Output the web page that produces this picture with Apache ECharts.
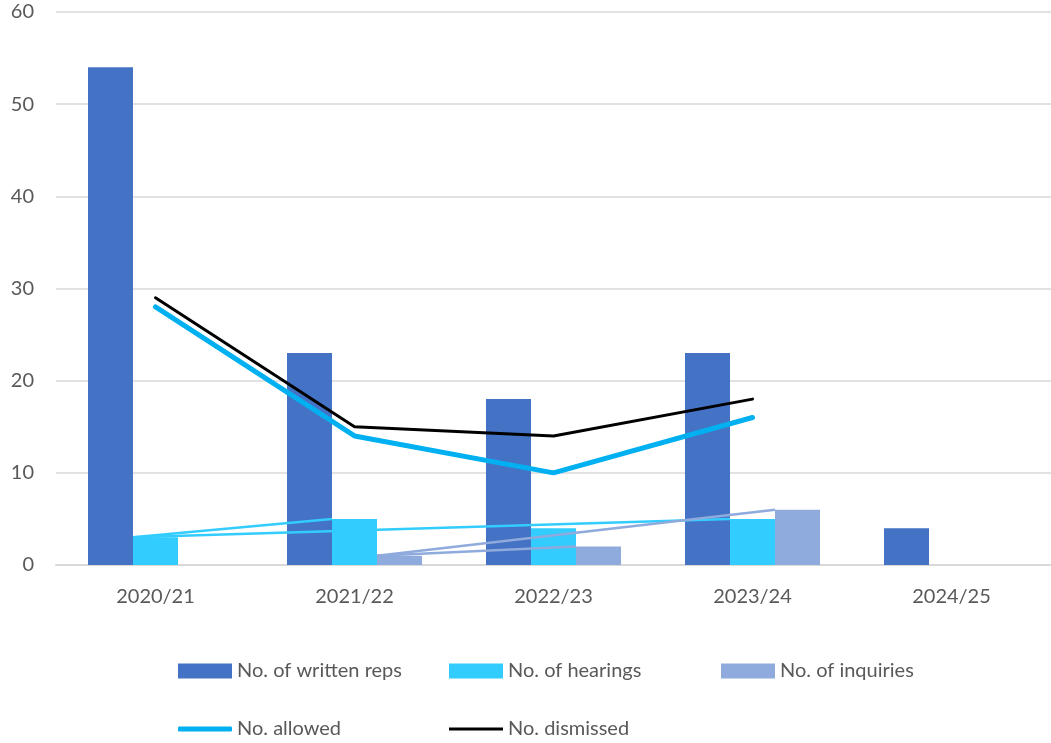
<!doctype html>
<meta charset="utf-8">
<style>
  html, body {
    margin: 0;
    height: 100%;
    background: #fff;
  }

  #chart {
    width: 1051px;
    height: 743px;
  }
</style>
<script src="https://cdn.jsdelivr.net/npm/echarts@6/dist/echarts.min.js"></script>

<div id="chart"></div>

<script>
  const years = ['2020/21', '2021/22', '2022/23', '2023/24', '2024/25']
  const writtenReps = [54, 23, 18, 23, 4]
  const hearings = [3, 5, 4, 5, null]
  const inquiries = [0, 1, 2, 6, null]
  const allowed = [28, 14, 10, 16, null]
  const dismissed = [29, 15, 14, 18, null]
  // stray thin lines joining bar tops (from index -> to index)
  const hearingLinks = [[0, 1], [0, 3]]
  const inquiryLinks = [[1, 2], [1, 3]]

  const GRID_LEFT = 56
  const GRID_RIGHT = 0
  const BAR_W = 45
  const catW = (1051 - GRID_LEFT - GRID_RIGHT) / years.length
  const barOff = BAR_W / 2 / catW

  // top-left corner of a bar in value-axis units
  function links(pairs, values, off) {
    return pairs.map(([a, b]) => [
      [a + 0.5 + off, values[a]],
      [b + 0.5 + off, values[b]],
    ])
  }

  const font = 'Lato, "Open Sans", sans-serif'
  const txt = { color: '#595959', fontSize: 20, fontFamily: font }

  let chart = echarts.init(document.getElementById('chart'))

  function thin(data, color) {
    return {
      type: 'line',
      xAxisIndex: 1,
      data: data,
      showSymbol: false,
      symbol: 'none',
      lineStyle: { color: color, width: 2.5 },
      z: 3,
      silent: true,
    }
  }

  function leg(name, left, top, icon, h) {
    return {
      data: [name],
      left: left,
      top: top,
      padding: 0,
      icon: icon,
      itemWidth: 54,
      itemHeight: h,
      itemGap: 0,
      textStyle: txt,
      selectedMode: false,
    }
  }

  let series = [
    {
      name: 'No. of written reps', type: 'bar', data: writtenReps,
      barWidth: BAR_W, barGap: '0%', itemStyle: { color: '#4472C4' },
    },
    {
      name: 'No. of hearings', type: 'bar', data: hearings,
      barWidth: BAR_W, barGap: '0%', itemStyle: { color: '#33CCFF' },
    },
    {
      name: 'No. of inquiries', type: 'bar', data: inquiries,
      barWidth: BAR_W, barGap: '0%', itemStyle: { color: '#8FAADC' },
    },
    {
      name: 'No. allowed', type: 'line', data: allowed,
      symbol: 'none', color: '#00B0F0',
      lineStyle: { color: '#00B0F0', width: 5, cap: 'round', join: 'round' },
      z: 4,
    },
    {
      name: 'No. dismissed', type: 'line', data: dismissed,
      symbol: 'none', color: '#000',
      lineStyle: { color: '#000', width: 3, cap: 'round', join: 'round' },
      z: 5,
    },
  ]
  links(hearingLinks, hearings, -barOff).forEach(d => series.push(thin(d, '#33CCFF')))
  links(inquiryLinks, inquiries, barOff).forEach(d => series.push(thin(d, '#8FAADC')))

  chart.setOption({
    animation: false,
    textStyle: { fontFamily: font },
    grid: {
      left: GRID_LEFT,
      right: GRID_RIGHT,
      top: 12,
      bottom: 178,
      containLabel: false,
    },
    legend: [
      leg('No. of written reps', 178, 661, 'rect', 15),
      leg('No. of hearings', 449, 661, 'rect', 15),
      leg('No. of inquiries', 721, 661, 'rect', 15),
      leg('No. allowed', 178, 719, 'roundRect', 5),
      leg('No. dismissed', 449, 719, 'rect', 3),
    ],
    xAxis: [
      {
        type: 'category',
        data: years,
        axisLine: { lineStyle: { color: '#D9D9D9', width: 2 } },
        axisTick: { show: false },
        axisLabel: Object.assign({ margin: 22 }, txt),
      },
      {
        type: 'value',
        min: 0,
        max: years.length,
        show: false,
      },
    ],
    yAxis: {
      type: 'value',
      min: 0,
      max: 60,
      interval: 10,
      axisLine: { show: false },
      axisTick: { show: false },
      axisLabel: Object.assign({ margin: 22 }, txt),
      splitLine: { lineStyle: { color: '#D9D9D9', width: 1.5 } },
    },
    series: series,
  })
</script>
